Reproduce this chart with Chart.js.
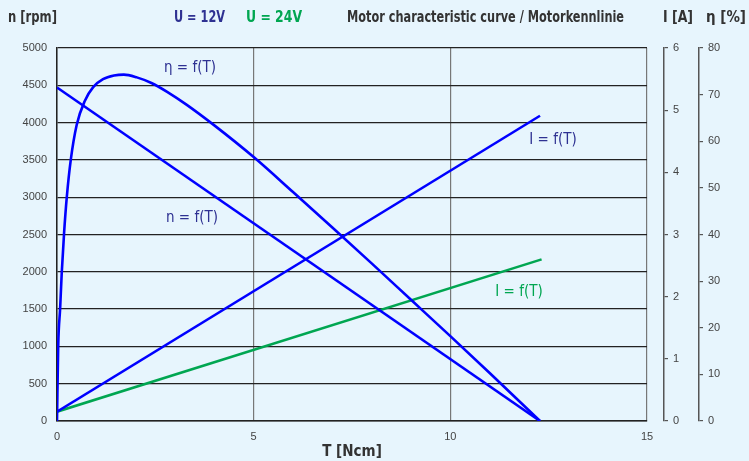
<!DOCTYPE html>
<html>
<head>
<meta charset="utf-8">
<script src="https://cdn.jsdelivr.net/npm/chart.js@4"></script>
<style>
  html, body { margin: 0; padding: 0; background: #e7f5fd; }
  #wrap { width: 749px; height: 461px; }
</style>
</head>
<body>
<div id="wrap"><canvas id="motorChart" width="749" height="461"></canvas></div>
<script>
// Motor characteristic curve data
const torqueLine = [0, 12.28];            // T [Ncm], end points of the straight lines
const speed12 = [4470, 0];                // n [rpm] at 12V
const current12 = [0.15, 4.91];           // I [A] at 12V
const torque24 = [0, 12.32];
const current24 = [0.15, 2.60];           // I [A] at 24V

const etaTorque = [0, 0.03, 0.08, 0.12, 0.18, 0.25, 0.35, 0.5, 0.71, 0.92, 1.17, 1.45, 1.7,
    2.03, 2.4, 2.8, 3.3, 4.0, 5.0, 6.0, 7.0, 8.0, 9.0, 10.0, 11.0, 12.28];
const etaValues = [0, 15.9, 24.2, 31.7, 40.3, 48.1, 56.0, 63.5, 68.7, 71.6, 73.3, 74.1, 74.3,
    73.7, 72.5, 70.6, 67.8, 63.4, 56.6, 49.1, 41.5, 33.8, 26.0, 18.2, 10.3, 0];   // η [%]

const speedTicks = [0, 5000, 500];
const currentTicks = [0, 6, 1];
const etaTicks = [0, 80, 10];
const torqueTicks = [0, 15, 5];

const toPoints = (xs, ys) => xs.map((x, i) => ({ x: x, y: ys[i] }));

const blue = '#0000ff';
const green = '#00a651';
const navy = '#2e3192';
const condensed = '"DejaVu Sans Condensed", "Liberation Sans Narrow", sans-serif';
const tickFont = { family: '"Liberation Sans", Arial, sans-serif', size: 11 };

// background + header + curve labels
const decorations = {
    id: 'decorations',
    beforeDraw(chart) {
        const ctx = chart.ctx;
        ctx.save();
        ctx.fillStyle = '#e7f5fd';
        ctx.fillRect(0, 0, chart.width, chart.height);
        ctx.restore();
    },
    afterDraw(chart) {
        const ctx = chart.ctx;
        ctx.save();
        ctx.textBaseline = 'middle';
        ctx.textAlign = 'left';
        const head = (txt, x, w, color, weight) => {
            ctx.font = weight + ' 15px ' + condensed;
            ctx.fillStyle = color;
            ctx.fillText(txt, x, 18, w);
        };
        head('n [rpm]', 8, 49, '#333333', 'bold');
        head('U = 12V', 174, 51, navy, 'bold');
        head('U = 24V', 246, 56, green, 'bold');
        head('Motor characteristic curve / Motorkennlinie', 347, 277, '#333333', 'bold');
        head('I [A]', 663, 30, '#333333', 'bold');
        head('η [%]', 706, 40, '#333333', 'bold');

        // curve labels
        ctx.font = '15px ' + condensed;
        ctx.textAlign = 'center';
        ctx.fillStyle = navy;
        ctx.fillText('η = f(T)', 190, 68);
        ctx.fillText('n = f(T)', 192, 218);
        ctx.fillText('I = f(T)', 553, 140);
        ctx.fillStyle = green;
        ctx.fillText('I = f(T)', 519, 292);
        ctx.restore();
    }
};

const plainTick = v => String(v);

const rightAxis = (min, max, step, weight, width) => ({
    type: 'linear',
    position: 'right',
    weight: weight,
    min: min,
    max: max,
    afterFit: s => { s.width = width; },
    border: { display: true, color: '#555555', width: 1.5 },
    grid: { drawOnChartArea: false, drawTicks: true, tickLength: 4, color: '#555555', lineWidth: 1.2 },
    ticks: { stepSize: step, padding: 5, color: '#444444', font: tickFont, callback: plainTick }
});

const ctx = document.getElementById('motorChart').getContext('2d');
const motorChart = new Chart(ctx, {
    type: 'scatter',
    data: {
        datasets: [
            {
                label: 'n = f(T)',
                data: toPoints(torqueLine, speed12),
                yAxisID: 'y',
                borderColor: blue, borderWidth: 2.6, showLine: true, pointRadius: 0
            },
            {
                label: 'η = f(T)',
                data: toPoints(etaTorque, etaValues),
                yAxisID: 'yEta',
                borderColor: blue, borderWidth: 2.6, showLine: true, pointRadius: 0,
                cubicInterpolationMode: 'monotone'
            },
            {
                label: 'I = f(T) 12V',
                data: toPoints(torqueLine, current12),
                yAxisID: 'yI',
                borderColor: blue, borderWidth: 2.6, showLine: true, pointRadius: 0
            },
            {
                label: 'I = f(T) 24V',
                data: toPoints(torque24, current24),
                yAxisID: 'yI',
                borderColor: green, borderWidth: 2.6, showLine: true, pointRadius: 0
            }
        ]
    },
    options: {
        responsive: false,
        animation: false,
        layout: { padding: { top: 48, right: 0, bottom: 0, left: 0 } },
        plugins: { legend: { display: false }, tooltip: { enabled: false } },
        scales: {
            x: {
                type: 'linear',
                min: torqueTicks[0], max: torqueTicks[1],
                afterFit: s => { s.height = 40; },
                border: { display: true, color: '#222222', width: 1.5 },
                grid: { color: '#777777', lineWidth: 1.2, drawTicks: false },
                ticks: { stepSize: torqueTicks[2], padding: 9, color: '#444444', font: tickFont, callback: plainTick },
                title: {
                    display: true, text: 'T [Ncm]', color: '#333333', padding: 0,
                    font: { family: condensed, size: 15, weight: 'bold' }
                }
            },
            y: {
                type: 'linear',
                position: 'left',
                min: speedTicks[0], max: speedTicks[1],
                afterFit: s => { s.width = 57; },
                border: { display: true, color: '#222222', width: 1.5 },
                grid: { color: '#222222', lineWidth: 1.2, drawTicks: false },
                ticks: { stepSize: speedTicks[2], padding: 10, color: '#444444', font: tickFont, callback: plainTick }
            },
            gap: {
                type: 'linear', position: 'right', weight: 0, min: 0, max: 1,
                afterFit: s => { s.width = 17; },
                border: { display: false }, grid: { display: false }, ticks: { display: false }
            },
            yI: rightAxis(currentTicks[0], currentTicks[1], currentTicks[2], 1, 35),
            yEta: rightAxis(etaTicks[0], etaTicks[1], etaTicks[2], 2, 50)
        }
    },
    plugins: [decorations]
});
</script>
</body>
</html>
